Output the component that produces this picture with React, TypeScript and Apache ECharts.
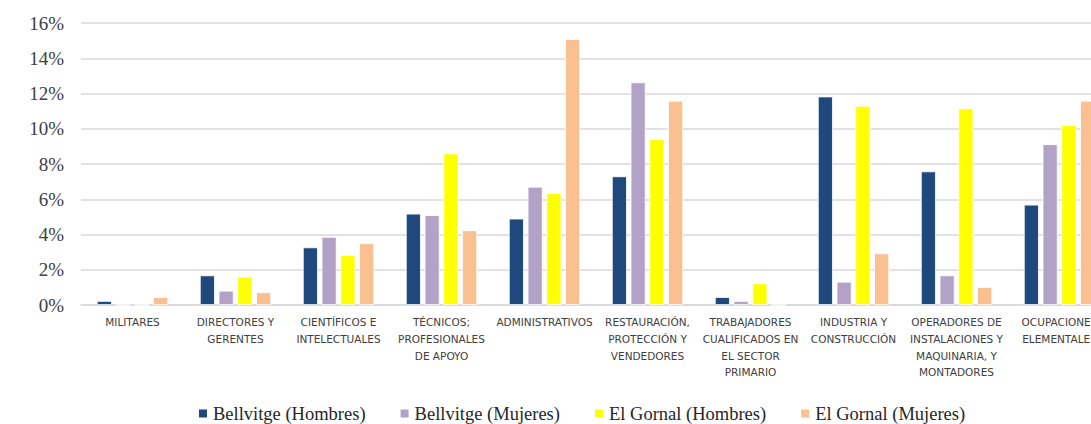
import React, { useEffect, useRef } from "react";
import * as echarts from "echarts";

const categories = [
  "MILITARES",
  "DIRECTORES Y\nGERENTES",
  "CIENTÍFICOS E\nINTELECTUALES",
  "TÉCNICOS;\nPROFESIONALES\nDE APOYO",
  "ADMINISTRATIVOS",
  "RESTAURACIÓN,\nPROTECCIÓN Y\nVENDEDORES",
  "TRABAJADORES\nCUALIFICADOS EN\nEL SECTOR\nPRIMARIO",
  "INDUSTRIA Y\nCONSTRUCCIÓN",
  "OPERADORES DE\nINSTALACIONES Y\nMAQUINARIA, Y\nMONTADORES",
  "OCUPACIONES\nELEMENTALES",
];

const seriesNames = [
  "Bellvitge (Hombres)",
  "Bellvitge (Mujeres)",
  "El Gornal (Hombres)",
  "El Gornal (Mujeres)",
];

const bellvitgeHombres = [0.23, 1.68, 3.27, 5.18, 4.9, 7.3, 0.45, 11.83, 7.58, 5.69];
const bellvitgeMujeres = [0, 0.81, 3.86, 5.1, 6.71, 12.63, 0.23, 1.32, 1.68, 9.12];
const gornalHombres = [0, 1.6, 2.84, 8.6, 6.35, 9.42, 1.23, 11.3, 11.16, 10.21];
const gornalMujeres = [0.45, 0.72, 3.5, 4.24, 15.09, 11.59, 0, 2.93, 1.02, 11.59];

const colors = ["#1F497D", "#B3A2C7", "#FFFF00", "#FAC090"];

const yTicks = { min: 0, max: 16, interval: 2 };

export default function App() {
  const ref = useRef<HTMLDivElement>(null);
  useEffect(() => {
    if (!ref.current) return;
    const chart = echarts.init(ref.current, undefined, { renderer: "svg" });
    const data = [bellvitgeHombres, bellvitgeMujeres, gornalHombres, gornalMujeres];
    chart.setOption({
      animation: false,
      backgroundColor: "#ffffff",
      grid: {
        left: 81,
        top: 23,
        width: 1030,
        height: 282,
        containLabel: false,
        outerBoundsMode: "none",
      },
      legend: {
        top: 399,
        left: 192,
        icon: "rect",
        itemWidth: 10,
        itemHeight: 10,
        itemGap: 33,
        textStyle: {
          fontFamily: "Liberation Serif",
          fontSize: 18.5,
          color: "#262626",
        },
        data: seriesNames,
      },
      xAxis: {
        type: "category",
        data: categories,
        axisTick: { show: false },
        axisLine: { lineStyle: { color: "#d9d9d9", width: 1.5 } },
        axisLabel: {
          interval: 0,
          hideOverlap: false,
          margin: 9,
          fontFamily: "DejaVu Sans",
          fontSize: 10.5,
          lineHeight: 16.7,
          color: "#404040",
        },
      },
      yAxis: {
        type: "value",
        min: yTicks.min,
        max: yTicks.max,
        interval: yTicks.interval,
        axisLine: { show: false },
        axisTick: { show: false },
        splitLine: { lineStyle: { color: "#d9d9d9", width: 1.5 } },
        axisLabel: {
          formatter: "{value}%",
          margin: 17,
          fontFamily: "Liberation Serif",
          fontSize: 19,
          color: "#404040",
        },
      },
      series: seriesNames.map((name, i) => ({
        name,
        type: "bar",
        data: data[i],
        barWidth: 15,
        barGap: "25%",
        itemStyle: { color: colors[i], borderColor: "#ffffff", borderWidth: 0.8 },
      })),
    });
    return () => chart.dispose();
  }, []);
  return (
    <div
      ref={ref}
      style={{ position: "fixed", left: 0, top: 0, width: 1091, height: 424 }}
    />
  );
}
